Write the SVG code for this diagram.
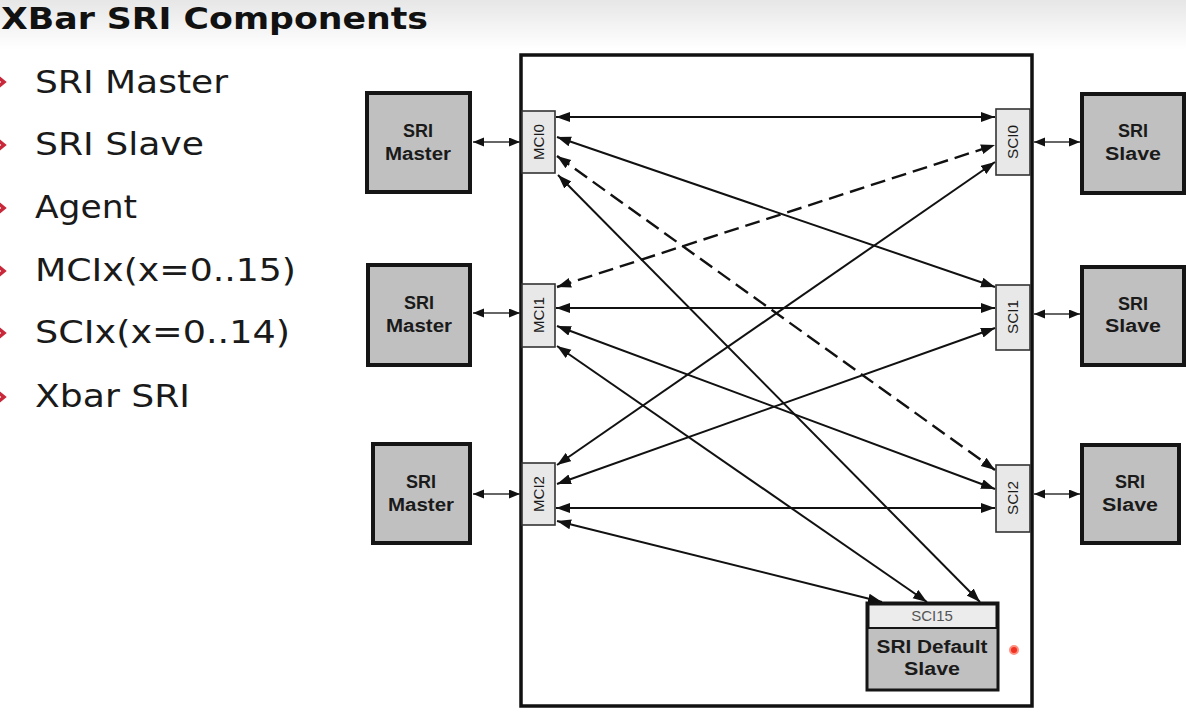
<svg xmlns="http://www.w3.org/2000/svg" width="1186" height="713" viewBox="0 0 1186 713">
<defs>
<linearGradient id="topbg" x1="0" y1="0" x2="0" y2="1">
<stop offset="0" stop-color="#e6e6e6"/>
<stop offset="1" stop-color="#ffffff"/>
</linearGradient>
<marker id="ah" markerUnits="userSpaceOnUse" markerWidth="15" markerHeight="11" refX="14" refY="5" orient="auto-start-reverse">
<path d="M0,0 L14,5 L0,10 z" fill="#111"/>
</marker>
<marker id="ahs" markerUnits="userSpaceOnUse" markerWidth="12" markerHeight="10" refX="11" refY="4.5" orient="auto-start-reverse">
<path d="M0,0 L11,4.5 L0,9 z" fill="#111"/>
</marker>
<style>
.title{font-family:"DejaVu Sans",Verdana,sans-serif;font-weight:bold;font-size:31px;fill:#111}
.bul{font-family:"DejaVu Sans",Verdana,sans-serif;font-size:32px;fill:#1a1a1a}
.chev{fill:none;stroke:#c8283a;stroke-width:3.5}
.blk{fill:#c0c0c0;stroke:#151515;stroke-width:4}
.port{fill:#e8e8e8;stroke:#333;stroke-width:1.6}
.frame{fill:#fff;stroke:#111;stroke-width:3.5}
.nt{font-family:"Liberation Sans",Arial,sans-serif;font-weight:bold;font-size:18px;fill:#1a1a1a;text-anchor:middle}
.pt{font-family:"Liberation Sans",Arial,sans-serif;font-size:14px;fill:#1a1a1a;text-anchor:middle}
.con{stroke:#111;stroke-width:2;fill:none;marker-start:url(#ah);marker-end:url(#ah)}
.dash{stroke-dasharray:15 7;stroke-width:2.4}
.ext{stroke:#333;stroke-width:1.5;fill:none;marker-start:url(#ahs);marker-end:url(#ahs)}
</style>
</defs>
<rect x="0" y="0" width="1186" height="713" fill="#fff"/>
<rect x="0" y="0" width="1186" height="50" fill="url(#topbg)"/>

<g id="title"><text class="title" x="1" y="29" textLength="427" lengthAdjust="spacingAndGlyphs">XBar SRI Components</text></g>

<g id="bullets">
<polyline class="chev" points="-2,77 4,82 -2,87"/>
<text class="bul" x="35" y="93" textLength="193" lengthAdjust="spacingAndGlyphs">SRI Master</text>
<polyline class="chev" points="-2,140 4,145 -2,150"/>
<text class="bul" x="35" y="155" textLength="169" lengthAdjust="spacingAndGlyphs">SRI Slave</text>
<polyline class="chev" points="-2,203 4,208 -2,213"/>
<text class="bul" x="35" y="218" textLength="102" lengthAdjust="spacingAndGlyphs">Agent</text>
<polyline class="chev" points="-2,266 4,271 -2,276"/>
<text class="bul" x="35" y="281" textLength="261" lengthAdjust="spacingAndGlyphs">MCIx(x=0..15)</text>
<polyline class="chev" points="-2,328 4,333 -2,338"/>
<text class="bul" x="35" y="343" textLength="255" lengthAdjust="spacingAndGlyphs">SCIx(x=0..14)</text>
<polyline class="chev" points="-2,392 4,397 -2,402"/>
<text class="bul" x="35" y="407" textLength="155" lengthAdjust="spacingAndGlyphs">Xbar SRI</text>
</g>

<g id="xbar"><rect class="frame" x="521" y="55" width="511" height="651"/></g>

<g id="master0"><rect class="blk" x="367" y="93" width="103" height="99"/>
<text class="nt" x="418" y="137">SRI</text><text class="nt" x="418" y="160" textLength="66" lengthAdjust="spacingAndGlyphs">Master</text></g>
<g id="master1"><rect class="blk" x="368" y="265" width="102" height="100"/>
<text class="nt" x="419" y="309">SRI</text><text class="nt" x="419" y="332" textLength="66" lengthAdjust="spacingAndGlyphs">Master</text></g>
<g id="master2"><rect class="blk" x="373" y="444" width="97" height="99"/>
<text class="nt" x="421" y="488">SRI</text><text class="nt" x="421" y="511" textLength="66" lengthAdjust="spacingAndGlyphs">Master</text></g>

<g id="slave0"><rect class="blk" x="1082" y="94" width="102" height="99"/>
<text class="nt" x="1133" y="137">SRI</text><text class="nt" x="1133" y="160" textLength="56" lengthAdjust="spacingAndGlyphs">Slave</text></g>
<g id="slave1"><rect class="blk" x="1082" y="267" width="102" height="98"/>
<text class="nt" x="1133" y="310">SRI</text><text class="nt" x="1133" y="332" textLength="56" lengthAdjust="spacingAndGlyphs">Slave</text></g>
<g id="slave2"><rect class="blk" x="1082" y="445" width="97" height="98"/>
<text class="nt" x="1130" y="488">SRI</text><text class="nt" x="1130" y="511" textLength="56" lengthAdjust="spacingAndGlyphs">Slave</text></g>

<g id="mci0"><rect class="port" x="522" y="111" width="33" height="62"/>
<text class="pt" transform="translate(544,142) rotate(-90)" textLength="36" lengthAdjust="spacingAndGlyphs">MCI0</text></g>
<g id="mci1"><rect class="port" x="522" y="284" width="33" height="63"/>
<text class="pt" transform="translate(544,315) rotate(-90)" textLength="36" lengthAdjust="spacingAndGlyphs">MCI1</text></g>
<g id="mci2"><rect class="port" x="522" y="463" width="33" height="62"/>
<text class="pt" transform="translate(544,494) rotate(-90)" textLength="36" lengthAdjust="spacingAndGlyphs">MCI2</text></g>

<g id="sci0"><rect class="port" x="996" y="109" width="34" height="66"/>
<text class="pt" transform="translate(1018,142) rotate(-90)" textLength="34" lengthAdjust="spacingAndGlyphs">SCI0</text></g>
<g id="sci1"><rect class="port" x="996" y="285" width="34" height="65"/>
<text class="pt" transform="translate(1018,317) rotate(-90)" textLength="34" lengthAdjust="spacingAndGlyphs">SCI1</text></g>
<g id="sci2"><rect class="port" x="996" y="465" width="34" height="67"/>
<text class="pt" transform="translate(1018,498) rotate(-90)" textLength="34" lengthAdjust="spacingAndGlyphs">SCI2</text></g>

<g id="default-slave">
<rect x="867" y="603" width="131" height="87" fill="#c0c0c0" stroke="#151515" stroke-width="3"/>
<rect x="868.5" y="604.5" width="128" height="23.5" fill="#ececec" stroke="#151515" stroke-width="2"/>
<text x="932" y="621" font-family="Liberation Sans, Arial, sans-serif" font-size="15" fill="#555" text-anchor="middle">SCI15</text>
<text class="nt" x="932" y="653" textLength="111" lengthAdjust="spacingAndGlyphs">SRI Default</text>
<text class="nt" x="932" y="675" textLength="56" lengthAdjust="spacingAndGlyphs">Slave</text>
</g>

<g id="connectors">
<line class="ext" x1="473" y1="142" x2="520" y2="142"/>
<line class="ext" x1="473" y1="313" x2="520" y2="313"/>
<line class="ext" x1="473" y1="494" x2="520" y2="494"/>
<line class="ext" x1="1034" y1="142" x2="1080" y2="142"/>
<line class="ext" x1="1034" y1="314" x2="1080" y2="314"/>
<line class="ext" x1="1034" y1="494" x2="1080" y2="494"/>

<line class="con" x1="556" y1="117" x2="995" y2="117"/>
<line class="con" x1="557" y1="137" x2="995" y2="287"/>
<line class="con dash" x1="557" y1="156" x2="995" y2="470"/>
<line class="con" x1="558" y1="175" x2="980" y2="602"/>
<line class="con dash" x1="557" y1="287" x2="995" y2="145"/>
<line class="con" x1="556" y1="308" x2="995" y2="308"/>
<line class="con" x1="557" y1="326" x2="995" y2="489"/>
<line class="con" x1="557" y1="346" x2="927" y2="602"/>
<line class="con" x1="557" y1="465" x2="995" y2="162"/>
<line class="con" x1="557" y1="484" x2="995" y2="328"/>
<line class="con" x1="556" y1="508" x2="995" y2="508"/>
<line class="con" x1="557" y1="521" x2="882" y2="602"/>
</g>

<circle cx="1014" cy="650" r="4" fill="#f03020" stroke="#ff9080" stroke-width="2"/>
</svg>
